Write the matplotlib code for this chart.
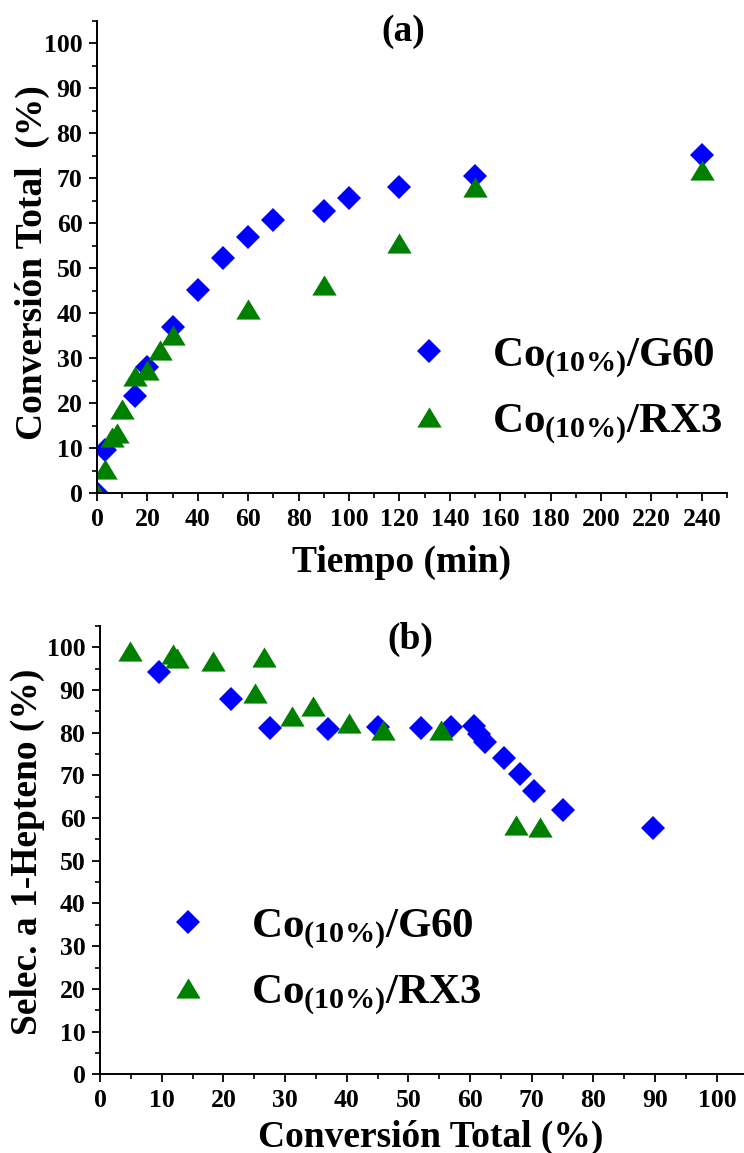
import matplotlib
matplotlib.use("Agg")
import matplotlib.pyplot as plt
from matplotlib.ticker import MultipleLocator

# (a) conversión total vs tiempo
tiempo_g60 = [0, 3, 15, 20, 30, 40, 50, 60, 70, 90, 100, 120, 150, 240]
conv_g60 = [0, 9.5, 21.5, 28, 37, 45.2, 52.2, 56.9, 60.7, 62.6, 65.6, 68.1, 70.5, 75.1]
tiempo_rx3 = [0, 3, 6, 8, 10, 15, 20, 25, 30, 60, 90, 120, 150, 240]
conv_rx3 = [0, 5.3, 12.5, 13.3, 18.8, 26, 27.4, 31.8, 35.2, 41, 46.3, 55.7, 68.1, 71.8]

# (b) selectividad a 1-hepteno vs conversión total
convb_g60 = [9.6, 21.2, 27.6, 37.0, 45.0, 52.0, 56.9, 60.6, 61.5, 62.4, 65.5, 68.1, 70.4, 75.0, 89.6]
selec_g60 = [94.3, 87.9, 81.0, 80.8, 81.4, 81.0, 81.3, 81.5, 79.8, 77.9, 74.0, 70.3, 66.3, 61.9, 57.6]
convb_rx3 = [4.9, 11.8, 12.5, 18.3, 25.2, 26.6, 31.2, 34.5, 40.4, 45.8, 55.2, 67.4, 71.3]
selec_rx3 = [99.2, 98.5, 97.5, 96.9, 89.4, 97.8, 83.9, 86.2, 82.3, 80.6, 80.6, 58.4, 58.0]

etiquetas = [r"Co$_{(10\%)}$/G60", r"Co$_{(10\%)}$/RX3"]

AZUL = "#0000ff"
VERDE = "#008000"
TRIANGULO = [(-1, -0.83), (1, -0.83), (0, 0.83)]

plt.rcParams["font.family"] = "Liberation Serif"
plt.rcParams["font.weight"] = "bold"
plt.rcParams["mathtext.fontset"] = "custom"
plt.rcParams["mathtext.rm"] = "Liberation Serif:bold"
plt.rcParams["mathtext.default"] = "rm"


def estilo_ejes(ax, x_mayor, x_menor, y_mayor, y_menor):
    """Ejes al estilo Origin: sin marco superior/derecho, ticks hacia afuera."""
    ax.spines["top"].set_visible(False)
    ax.spines["right"].set_visible(False)
    for s in ("left", "bottom"):
        ax.spines[s].set_linewidth(1.4)
    ax.xaxis.set_major_locator(MultipleLocator(x_mayor))
    ax.xaxis.set_minor_locator(MultipleLocator(x_menor))
    ax.yaxis.set_major_locator(MultipleLocator(y_mayor))
    ax.yaxis.set_minor_locator(MultipleLocator(y_menor))
    ax.tick_params(which="major", direction="out", length=5.5, width=1.3,
                   labelsize=18.5, pad=5)
    ax.tick_params(which="minor", direction="out", length=3.5, width=1.2)
    for lab in ax.get_xticklabels() + ax.get_yticklabels():
        lab.set_fontweight("bold")


def leyenda(ax, x0, y0):
    ax.legend(etiquetas, loc="center left", bbox_to_anchor=(x0, y0),
              frameon=False, fontsize=31, handlelength=1.0, handletextpad=0.95,
              borderpad=0, borderaxespad=0, labelspacing=0.5)


fig = plt.figure(figsize=(7.44, 11.53), dpi=100)

# ---- (a)
ax1 = fig.add_axes([0.1304, 0.5722, 0.8468, 0.4099])
ax1.plot(tiempo_g60, conv_g60, ls="none", marker="D", ms=12.7, color=AZUL, mew=0)
ax1.plot(tiempo_rx3, conv_rx3, ls="none", marker=TRIANGULO, ms=17.5, color=VERDE, mew=0)
ax1.set_xlim(0, 250)
ax1.set_ylim(0, 105)
estilo_ejes(ax1, 20, 10, 10, 5)
ax1.text(0.4865, 0.978, "(a)", transform=ax1.transAxes, ha="center", va="center",
         fontsize=27, fontweight="bold")
ax1.text(0.484, -0.147, "Tiempo (min)", transform=ax1.transAxes, ha="center",
         va="center", fontsize=27, fontweight="bold")
ax1.text(-0.1024, 0.489, "Conversión Total  (%)", transform=ax1.transAxes,
         ha="center", va="center", rotation=90, fontsize=27, fontweight="bold")
leyenda(ax1, 0.493, 0.217)

# ---- (b)
ax2 = fig.add_axes([0.1344, 0.0683, 0.8656, 0.3888])
ax2.plot(convb_g60, selec_g60, ls="none", marker="D", ms=12.7, color=AZUL, mew=0)
ax2.plot(convb_rx3, selec_rx3, ls="none", marker=TRIANGULO, ms=17.5, color=VERDE, mew=0)
ax2.set_xlim(0, 104.4)
ax2.set_ylim(0, 105)
estilo_ejes(ax2, 10, 5, 10, 5)
ax2.text(0.482, 0.971, "(b)", transform=ax2.transAxes, ha="center", va="center",
         fontsize=27, fontweight="bold")
ax2.text(0.514, -0.14, "Conversión Total (%)", transform=ax2.transAxes, ha="center",
         va="center", fontsize=27, fontweight="bold")
ax2.text(-0.1126, 0.497, "Selec. a 1-Hepteno (%)", transform=ax2.transAxes,
         ha="center", va="center", rotation=90, fontsize=27, fontweight="bold")
leyenda(ax2, 0.104, 0.251)

fig.savefig("out.png", dpi=100)
